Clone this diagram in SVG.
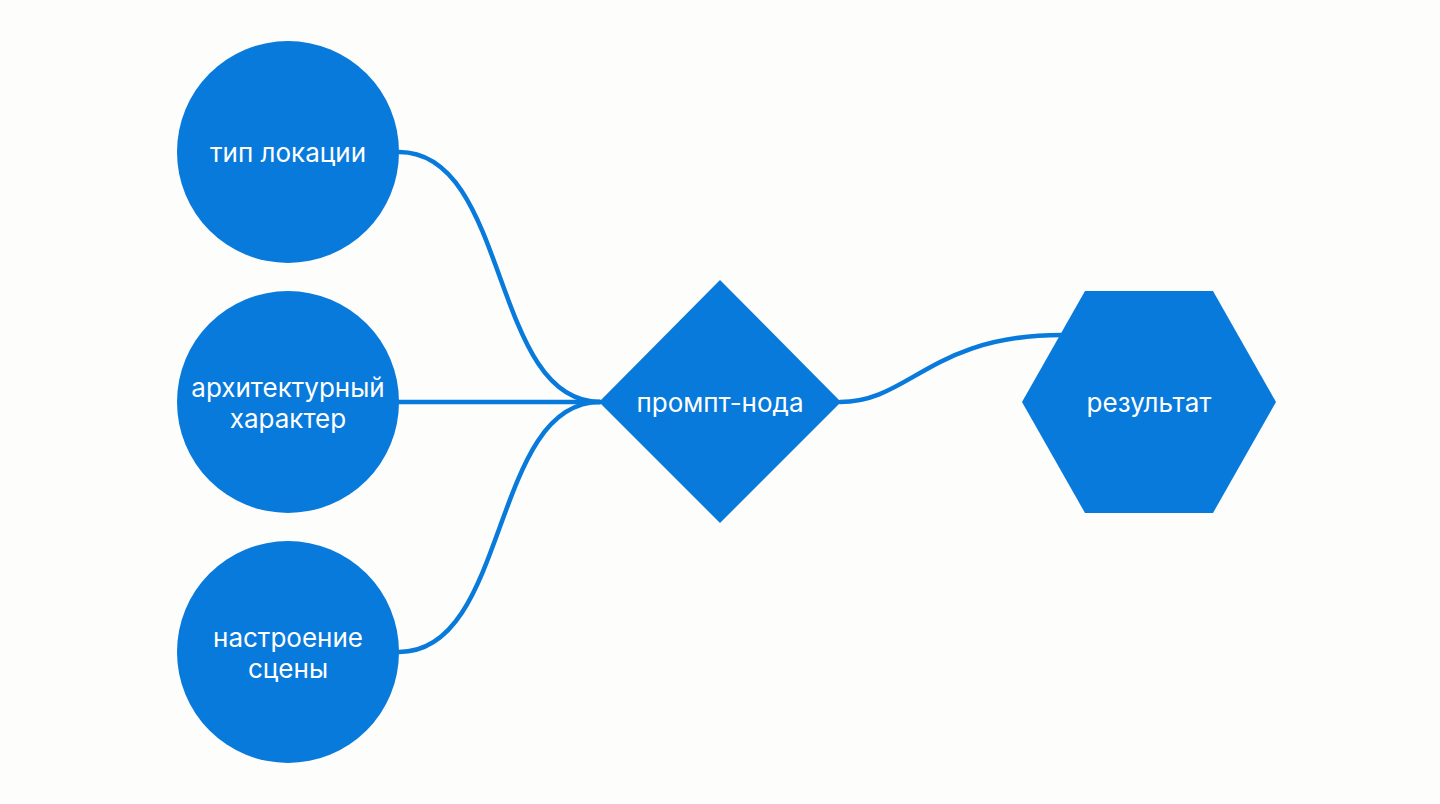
<svg xmlns="http://www.w3.org/2000/svg" width="1440" height="804" viewBox="0 0 1440 804">
<style>
.n{fill:#087ADC}
.t{fill:#FFFFFF;font-family:Inter,"Noto Sans",sans-serif;font-size:26px;text-anchor:middle}
.c{fill:none;stroke:#087ADC;stroke-width:4.5;stroke-linecap:round}
</style>
<rect width="1440" height="804" fill="#FDFDFC"/>
<g id="connectors">
<path class="c" d="M399,152 C510,152 490,402 600,402"/>
<path class="c" d="M399,402 L600,402"/>
<path class="c" d="M399,652 C510,652 490,402 600,402"/>
<path class="c" d="M840,402 C910,402 930,335 1062,335"/>
</g>
<g id="n1"><circle class="n" cx="288" cy="152" r="111"/><text class="t" x="288" y="162">тип локации</text></g>
<g id="n2"><circle class="n" cx="288" cy="402" r="111"/><text class="t" x="288" y="397">архитектурный</text><text class="t" x="288" y="428">характер</text></g>
<g id="n3"><circle class="n" cx="288" cy="652" r="111"/><text class="t" x="288" y="647">настроение</text><text class="t" x="288" y="678">сцены</text></g>
<g id="n4"><polygon class="n" points="720,280 841,402 720,523 599,402"/><text class="t" x="720" y="412">промпт-нода</text></g>
<g id="n5"><polygon class="n" points="1085,291 1213,291 1276,402 1213,513 1085,513 1022,402"/><text class="t" x="1149" y="412">результат</text></g>
</svg>
